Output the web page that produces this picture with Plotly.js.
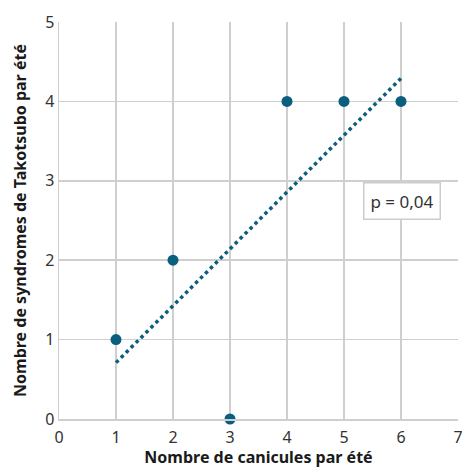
<!DOCTYPE html>
<html>
<head>
<meta charset="utf-8">
<script src="https://cdn.plot.ly/plotly-3.0.1.min.js"></script>
<style>html,body{margin:0;padding:0;background:#fff;}#chart{width:462px;height:468px;}</style>
</head>
<body>
<div id="chart"></div>
<script>
const canicules = [1, 2, 3, 4, 5, 6];
const takotsubo = [1, 2, 0, 4, 4, 4];
const trendX = [1, 6];
const trendY = [0.71, 4.29];
const tickVals = [0, 1, 2, 3, 4, 5, 6, 7];
const tickText = ['0', '1', '2', '3', '4', '5', '6', '7'];
const yTickVals = [0, 1, 2, 3, 4, 5];
const annotText = 'p = 0,04';

const color = '#0a5e7e';
const traces = [
  {x: trendX, y: trendY, mode: 'lines', type: 'scatter',
   line: {color: color, width: 3.5, dash: 'dot'}, hoverinfo: 'skip'},
  {x: canicules, y: takotsubo, mode: 'markers', type: 'scatter',
   marker: {color: color, size: 11}, cliponaxis: false}
];
const font = 'Noto Sans, Open Sans, sans-serif';
const layout = {
  width: 462, height: 468,
  margin: {l: 59, r: 4, t: 22, b: 49},
  showlegend: false,
  paper_bgcolor: '#fff', plot_bgcolor: '#fff',
  font: {family: font, color: '#333', size: 16},
  xaxis: {range: [0, 7], tickvals: tickVals, ticktext: tickText,
    showgrid: true, gridcolor: '#cfcfcf', gridwidth: 1.5, zeroline: false,
    showline: true, linecolor: '#cfcfcf', linewidth: 1.5, ticks: 'outside', ticklen: 3, tickcolor: 'rgba(0,0,0,0)',
    ticklabeloverflow: 'allow',
    tickfont: {size: 16, color: '#333'},
    title: {text: 'Nombre de canicules par été', standoff: 4,
      font: {size: 16, color: '#1a1a1a', family: font, weight: 'bold'}}},
  yaxis: {range: [0, 5], tickvals: yTickVals,
    showgrid: true, gridcolor: '#cfcfcf', gridwidth: 1.5, zeroline: false,
    showline: true, linecolor: '#cfcfcf', linewidth: 1.5, ticks: '',
    tickfont: {size: 16, color: '#333'},
    title: {text: 'Nombre de syndromes de Takotsubo par été', standoff: 14,
      font: {size: 16, color: '#1a1a1a', family: font, weight: 'bold'}}},
  annotations: [{x: 6.02, y: 2.74, xref: 'x', yref: 'y', text: annotText, showarrow: false,
    font: {size: 17, color: '#333'}, bgcolor: '#fff', bordercolor: '#cccccc', borderwidth: 1.5,
    borderpad: 6}]
};
Plotly.newPlot('chart', traces, layout, {displayModeBar: false, staticPlot: true});
</script>
</body>
</html>
